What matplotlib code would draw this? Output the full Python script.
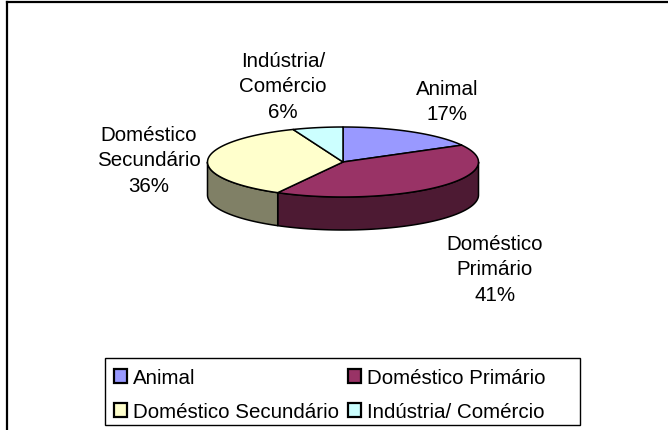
import numpy as np
import matplotlib.pyplot as plt
from matplotlib.patches import Polygon, Patch, Rectangle
from matplotlib.lines import Line2D

plt.rcParams["font.family"] = ["Liberation Sans", "DejaVu Sans"]

# ---------------------------------------------------------
# DADOS
# ---------------------------------------------------------

categorias = ["Animal", "Doméstico Primário", "Doméstico Secundário", "Indústria/ Comércio"]
valores = [17, 41, 36, 6]
rotulos = ["Animal\n17%", "Doméstico\nPrimário\n41%", "Doméstico\nSecundário\n36%", "Indústria/\nComércio\n6%"]

cores_topo = ["#9999FF", "#993366", "#FFFFCC", "#CCFFFF"]
cores_lado = ["#4D4D80", "#4D1A33", "#808066", "#668080"]

# posição dos rótulos (pixels)
pos_rotulos = [(447, 102), (495, 270), (149, 161), (283, 87)]

# geometria da pizza 3D (pixels)
cx, cy = 343, 163
rx, ry = 135.5, 35
prof = 33

fig = plt.figure(figsize=(6.68, 4.31), dpi=100)
ax = fig.add_axes([0, 0, 1, 1])
ax.set_xlim(0, 668)
ax.set_ylim(431, 0)
ax.axis("off")

# moldura
ax.add_line(Line2D([7, 7], [431, 3], color="black", lw=1.6))
ax.add_line(Line2D([7, 668], [3, 3], color="black", lw=1.6))


def arco(t0, t1, dy=0, n=80):
    t = np.radians(np.linspace(t0, t1, n))
    return np.column_stack([cx + rx * np.cos(t), cy - ry * np.sin(t) + dy])


total = sum(valores)
angulos = [90]
for v in valores:
    angulos.append(angulos[-1] - v / total * 360)

# lados (parte da frente: angulos entre -180 e 0)
for i in range(len(valores)):
    t_ini, t_fim = angulos[i], angulos[i + 1]
    for k in (-360, 0):
        a = max(t_fim, -180 + k)
        b = min(t_ini, 0 + k)
        if a < b:
            topo = arco(b, a)
            base = arco(a, b, dy=prof)
            pts = np.vstack([topo, base])
            ax.add_patch(Polygon(pts, closed=True, facecolor=cores_lado[i],
                                 edgecolor="black", lw=1.1, joinstyle="round"))

# topo
for i in range(len(valores)):
    pts = np.vstack([[cx, cy], arco(angulos[i], angulos[i + 1])])
    ax.add_patch(Polygon(pts, closed=True, facecolor=cores_topo[i],
                         edgecolor="black", lw=1.1, joinstyle="round"))

# rótulos
for texto, (x, y) in zip(rotulos, pos_rotulos):
    ax.text(x, y, texto, ha="center", va="center", fontsize=14.8,
            linespacing=1.42, multialignment="center")

# caixa da legenda
ax.add_patch(Rectangle((105, 359), 475, 67, facecolor="white",
                       edgecolor="black", lw=1.0, zorder=4))

# legenda (ordem por colunas)
ordem = [0, 2, 1, 3]
handles = [Patch(facecolor=cores_topo[i], edgecolor="black", lw=1.6) for i in ordem]
leg = ax.legend(
    handles,
    [categorias[i] for i in ordem],
    ncol=2,
    loc="upper left",
    bbox_to_anchor=(104 / 668, 1 - 359 / 431),
    borderaxespad=0,
    fontsize=14.8,
    handlelength=0.62,
    handleheight=0.62,
    handletextpad=0.3,
    columnspacing=0.45,
    labelspacing=0.72,
    borderpad=0.5,
    frameon=False,
)
leg.set_zorder(5)

plt.savefig("out.png", dpi=100)
